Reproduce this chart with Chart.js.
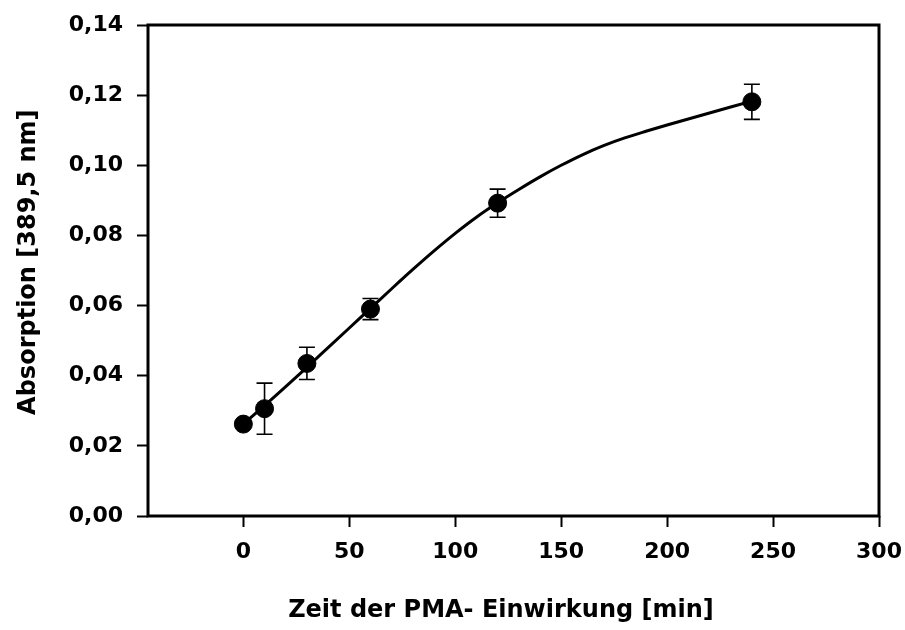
<!DOCTYPE html>
<html>
<head>
<meta charset="utf-8">
<script src="https://cdn.jsdelivr.net/npm/chart.js@4"></script>
<style>
  html, body { margin: 0; padding: 0; background: #ffffff; }
  #wrap { width: 905px; height: 630px; }
</style>
</head>
<body>
<div id="wrap"><canvas id="c" width="905" height="630"></canvas></div>
<script>
// Measured absorption after PMA exposure (mean ± SD)
const timeMin = [0, 10, 30, 60, 120, 240];
const absorption = [0.0262, 0.0306, 0.0435, 0.0590, 0.0892, 0.1181];
const absorptionSd = [0.0010, 0.0073, 0.0046, 0.0030, 0.0040, 0.0050];

// Fitted curve through the measurements
const fitTime = [0, 10, 20, 30, 40, 50, 60, 70, 80, 90, 100, 110, 120,
                 130, 140, 150, 160, 170, 180, 190, 200, 210, 220, 230, 240];
const fitAbsorption = [0.0262, 0.0315, 0.0369, 0.0424, 0.0480, 0.0536, 0.0592, 0.0648, 0.0703, 0.0756, 0.0806, 0.0852, 0.0893,
                       0.0931, 0.0967, 0.1000, 0.1030, 0.1056, 0.1078, 0.1097, 0.1115, 0.1132, 0.1149, 0.1166, 0.1183];

// Axis ticks
const xTickValues = [0, 50, 100, 150, 200, 250, 300];
const yTickValues = [0, 0.02, 0.04, 0.06, 0.08, 0.10, 0.12, 0.14];

const FONT = "'DejaVu Sans', 'Liberation Sans', Arial, sans-serif";

const whiteBackground = {
  id: 'whiteBackground',
  beforeDraw(chart) {
    const ctx = chart.ctx;
    ctx.save();
    ctx.fillStyle = '#ffffff';
    ctx.fillRect(0, 0, chart.width, chart.height);
    ctx.restore();
  }
};

// Vertical error bars with caps, placed through the chart scales
const errorBars = {
  id: 'errorBars',
  afterDatasetsDraw(chart) {
    const ctx = chart.ctx;
    const xs = chart.scales.x, ys = chart.scales.y;
    ctx.save();
    ctx.strokeStyle = '#000000';
    ctx.lineWidth = 1.6;
    timeMin.forEach((t, i) => {
      const px = xs.getPixelForValue(t);
      const top = ys.getPixelForValue(absorption[i] + absorptionSd[i]);
      const bot = ys.getPixelForValue(absorption[i] - absorptionSd[i]);
      const cap = 8;
      ctx.beginPath();
      ctx.moveTo(px, top); ctx.lineTo(px, bot);
      ctx.moveTo(px - cap, top); ctx.lineTo(px + cap, top);
      ctx.moveTo(px - cap, bot); ctx.lineTo(px + cap, bot);
      ctx.stroke();
    });
    ctx.restore();
  }
};

// Closed frame around the plotting area
const frame = {
  id: 'frame',
  afterDraw(chart) {
    const a = chart.chartArea;
    const ctx = chart.ctx;
    ctx.save();
    ctx.strokeStyle = '#000000';
    ctx.lineWidth = 3;
    ctx.strokeRect(a.left, a.top, a.right - a.left, a.bottom - a.top);
    ctx.restore();
  }
};

new Chart(document.getElementById('c'), {
  type: 'scatter',
  data: {
    datasets: [
      {
        label: 'Fit',
        type: 'line',
        data: fitTime.map((t, i) => ({ x: t, y: fitAbsorption[i] })),
        borderColor: '#000000',
        borderWidth: 3,
        pointRadius: 0,
        fill: false,
        cubicInterpolationMode: 'monotone',
        order: 2
      },
      {
        label: 'Absorption',
        data: timeMin.map((t, i) => ({ x: t, y: absorption[i] })),
        backgroundColor: '#000000',
        borderColor: '#000000',
        pointRadius: 9,
        pointHoverRadius: 9,
        order: 1
      }
    ]
  },
  options: {
    responsive: false,
    animation: false,
    events: [],
    layout: { padding: { left: 0, right: 26, top: 25, bottom: 0 } },
    plugins: {
      legend: { display: false },
      tooltip: { enabled: false }
    },
    scales: {
      x: {
        type: 'linear',
        min: -45,
        max: 300,
        afterBuildTicks(scale) { scale.ticks = xTickValues.map(v => ({ value: v })); },
        afterFit(scale) {
          scale.height = 114;
          scale.paddingLeft = 0;
          scale.paddingRight = 0;
        },
        border: { display: false },
        grid: {
          drawOnChartArea: false,
          drawTicks: true,
          tickLength: 11,
          tickWidth: 2,
          tickColor: '#000000'
        },
        ticks: {
          color: '#000000',
          padding: 12,
          maxRotation: 0,
          autoSkip: false,
          font: { family: FONT, size: 22, weight: 'bold' },
          callback: v => String(v)
        },
        title: {
          display: true,
          text: 'Zeit der PMA- Einwirkung [min]\u2007 ',
          color: '#000000',
          padding: { top: 0, bottom: 5 },
          font: { family: FONT, size: 24, weight: 'bold' }
        }
      },
      y: {
        type: 'linear',
        min: 0,
        max: 0.14,
        afterBuildTicks(scale) { scale.ticks = yTickValues.map(v => ({ value: v })); },
        afterFit(scale) {
          scale.width = 148;
          scale.paddingTop = 0;
          scale.paddingBottom = 0;
        },
        border: { display: false },
        grid: {
          drawOnChartArea: false,
          drawTicks: true,
          tickLength: 11,
          tickWidth: 2,
          tickColor: '#000000'
        },
        ticks: {
          color: '#000000',
          padding: 14,
          autoSkip: false,
          font: { family: FONT, size: 22, weight: 'bold' },
          callback: v => v.toFixed(2).replace('.', ',')
        },
        title: {
          display: true,
          text: '\u2007Absorption [389,5 nm]',
          color: '#000000',
          padding: { top: 14, bottom: 0 },
          font: { family: FONT, size: 24, weight: 'bold' }
        }
      }
    }
  },
  plugins: [whiteBackground, errorBars, frame]
});
</script>
</body>
</html>
